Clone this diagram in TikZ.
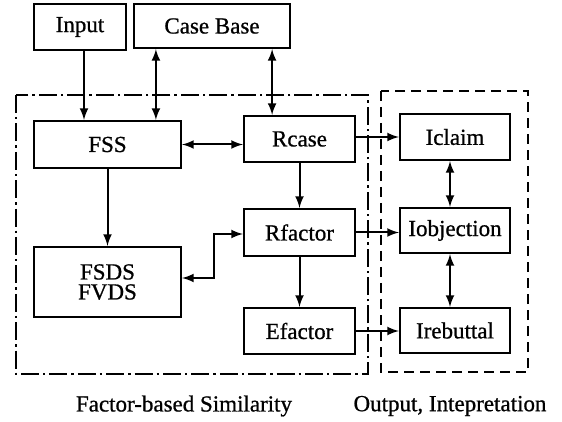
\documentclass[tikz,border=0pt]{standalone}
\usepackage{fontspec}
\setmainfont{Liberation Serif}
\newfontfamily\tnr[FakeBold=0.8]{Liberation Serif}
\usepackage{tikz}

\begin{document}
\begin{tikzpicture}[x=0.5pt,y=-0.5pt,>=latex,
    box/.style={draw,line width=1.1pt,inner sep=2pt,font=\tnr\fontsize{11.5}{12}\selectfont},
    conn/.style={line width=1pt}]
            \useasboundingbox (0,0) rectangle (562,422);
            \draw[line width=0.9pt,dash pattern=on 9pt off 2pt on 1.2pt off 2pt] (16,95) rectangle (368,374);
            \draw[line width=0.9pt,dash pattern=on 5pt off 3pt] (381,91) rectangle (528,372);
            \node[box,minimum width=46pt,minimum height=23pt] (input) at (80,27) {Input};
            \node[box,minimum width=78pt,minimum height=22pt] (cb) at (212,26) {Case Base};
            \node[box,minimum width=73.5pt,minimum height=23.5pt] (fss) at (107.5,144.5) {FSS};
            \node[box,minimum width=55.5pt,minimum height=23pt] (rcase) at (299.5,139) {Rcase};
            \node[box,minimum width=55.5pt,minimum height=23.5pt] (rfactor) at (299.5,232.5) {Rfactor};
            \node[box,minimum width=55.5pt,minimum height=23pt] (efactor) at (299.5,331) {Efactor};
            \node[box,minimum width=73.5pt,minimum height=35pt,align=center] (fsds) at (107.5,282) {FSDS\\[-2pt]FVDS};
            \node[box,minimum width=55pt,minimum height=23pt] (iclaim) at (455,137) {Iclaim};
            \node[box,minimum width=55pt,minimum height=22.5pt] (iobj) at (455,230.5) {Iobjection};
            \node[box,minimum width=55pt,minimum height=22.5pt] (ireb) at (455,330.5) {Irebuttal};
            \draw[conn,->] ([xshift=2pt]input.south) -- ([xshift=2pt]input.south |- fss.north);
            \draw[conn,<->] ([xshift=11.5pt]cb.south west) -- ([xshift=11.5pt]cb.south west |- fss.north);
            \draw[conn,<->] ([xshift=-9.5pt]cb.south east) -- ([xshift=-9.5pt]cb.south east |- rcase.north);
            \draw[conn,<->] (fss.east) -- (fss.east -| rcase.west);
            \draw[conn,->] (fss.south) -- (fsds.north);
            \draw[conn,->] (rcase.south) -- (rfactor.north);
            \draw[conn,->] (rfactor.south) -- (efactor.north);
            \draw[conn,<->] ([yshift=2pt]fsds.east) -- ++(32,0) |- ([yshift=-0.75pt]rfactor.west);
            \draw[conn,->] ([yshift=1pt]rcase.east) -- ([yshift=1pt]rcase.east -| iclaim.west);
            \draw[conn,->] (rfactor.east) -- (rfactor.east -| iobj.west);
            \draw[conn,->] (efactor.east) -- (efactor.east -| ireb.west);
            \draw[conn,<->] ([xshift=-2.5pt]iclaim.south) -- ([xshift=-2.5pt]iobj.north);
            \draw[conn,<->] ([xshift=-2.5pt]iobj.south) -- ([xshift=-2.5pt]ireb.north);
            \node[font=\tnr\fontsize{11.5}{13}\selectfont] (lfactor) at (184,406) {Factor-based Similarity};
            \node[font=\tnr\fontsize{11.5}{13}\selectfont] (loutput) at (450,406) {Output, Intepretation};
        \end{tikzpicture}
\end{document}
